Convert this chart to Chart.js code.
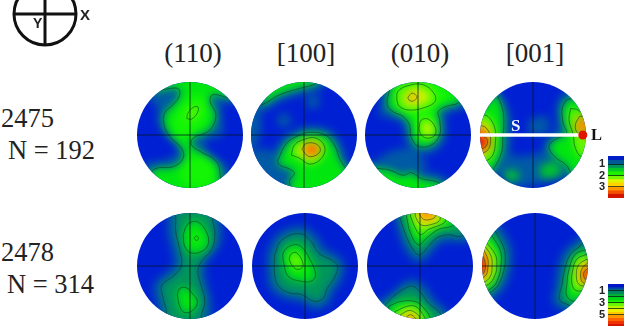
<!DOCTYPE html>
<html>
<head>
<meta charset="utf-8">
<script src="https://cdn.jsdelivr.net/npm/chart.js@4"></script>
<style>
  body { margin: 0; background: #fff; overflow: hidden; width: 631px; height: 332px; position: relative; }
  .txt { position: absolute; white-space: nowrap; font-family: "Liberation Serif", serif; color: #222; }
  .pole { position: absolute; border-radius: 50%; overflow: hidden; background: rgb(0, 32, 212); }
  canvas { position: absolute; }
</style>
</head>
<body>
<script>
const planes = ['(110)', '[100]', '(010)', '[001]'];
const samples = ['2475', '2478'];
const grainCounts = ['N = 192', 'N = 314'];

// density colour for each half level, lowest first
const levelColors = ['rgb(0,32,212)', 'rgb(0,90,165)', 'rgb(0,150,90)', 'rgb(0,195,45)', 'rgb(0,230,15)',
  'rgb(20,245,5)', 'rgb(110,245,0)', 'rgb(210,245,0)', 'rgb(245,235,0)', 'rgb(255,190,0)',
  'rgb(255,140,0)', 'rgb(255,80,0)', 'rgb(225,20,0)'];

// Contours as [level, [x, y, x, y, ...]] in percent of the stereonet radius.
// Whole levels get a contour line, half levels are only shading.
const pole2475_110 = [
  [0.5, [-90,80, -40,96, 0,110, 90,100, 95,60, 62,60, 60,0, 30,-10, 40,-40, 70,-60, 70,-110, -60,-110, -90,-60, -40,-45, -22,-25, -60,20, -62,50]],
  [2, [-76,91, -67,84, -23,88, -20,74, -32,57, -48,41, -48,16, -35,-6, -16,-25, -13,-44, -32,-60, -64,-63, -76,-79, -51,-110, 51,-110, 56,-66, 47,-47, 21,-32, 3,-19, 6,-6, 37,9, 49,38, 38,63, 43,76, 78,72, 88,98, 0,117]],
  [2.5, [-35,28, -20,54, 6,76, 28,72, 34,41, 21,13, -7,-6, -29,3]],
  [2.5, [-7,-47, 21,-38, 43,-57, 47,-82, 25,-98, -7,-94, -20,-72]],
  [3, [-6,31, -4,41, 6,52, 15,53, 14,42, 3,30]]
];
const pole2475_100 = [
  [0.5, [4,63, 10,74, 24,74, 30,63, 24,52, 10,52]],
  [0.5, [-51,28, -45,39, -31,39, -25,28, -31,17, -45,17]],
  [0.5, [-110,-30, -60,-30, -30,-70, -40,-120, -110,-120]],
  [0.5, [-120,50, -85,50, -90,-20, -120,-20]],
  [0.5, [-100,40, -70,48, -44,64, -8,76, 30,86, 50,110, -60,120]],
  [0.5, [-62,-45, -40,-6, -8,12, 16,16, 50,8, 72,-20, 82,-50, 100,-70, 96,-110, -60,-110]],
  [2, [-87,54, -73,60, -46,76, -8,88, 23,98, 33,117, -49,117]],
  [2, [-50,-49, -33,-16, -8,0, 14,5, 42,-1, 59,-22, 67,-44, 80,-66, 96,-98, -26,-113, -26,-98, -27,-85, -18,-72, -30,-63, -46,-57]],
  [3, [-24,-38, -18,-19, 1,-8, 23,-6, 39,-22, 33,-44, 11,-55, -8,-44]],
  [3.5, [-14,-32, 2,-14, 22,-12, 33,-24, 26,-40, 10,-47]],
  [5, [-4,-27, 4,-16, 23,-17, 31,-28, 23,-38, 8,-40]],
  [5.5, [4,-27, 14,-21, 25,-25, 20,-33, 11,-35]]
];
const pole2475_010 = [
  [0.5, [-72,54, -60,72, -54,41, -72,35]],
  [0.5, [-72,-41, -41,-28, -9,-28, 16,-60, -28,-66, -79,-60]],
  [0.5, [-70,50, -50,30, -28,22, -26,0, -20,-18, 0,-34, 30,-32, 52,-5, 52,28, 60,44, 85,50, 110,80, 40,120, -60,115]],
  [0.5, [-100,-50, -50,-54, -20,-58, 10,-68, 50,-80, 70,-110, -80,-120]],
  [2, [-76,-63, -54,-66, -28,-76, -13,-71, 6,-82, 41,-91, 54,-110, -72,-110, -91,-60]],
  [2, [-50,104, -54,85, -58,57, -47,44, -28,35, -16,19, -13,-3, 0,-21, 25,-19, 41,0, 41,28, 38,44, 54,54, 77,61, 98,85, 47,110]],
  [2.5, [-44,66, -30,46, -8,32, 0,0, 10,-12, 32,-6, 34,30, 28,50, 60,70, 40,100, -40,100]],
  [3, [-40,66, -38,82, -19,93, 9,95, 30,79, 32,63, 13,52, -16,47, -35,54]],
  [3, [2,13, 6,28, 19,30, 32,16, 32,0, 19,-6, 6,0]],
  [3.5, [-28,68, -14,86, 10,86, 20,70, 6,58, -18,56]],
  [3.5, [8,12, 12,24, 20,22, 27,12, 24,2, 14,2]],
  [5, [-19,71, -11,79, -2,72, -9,64, -17,66]]
];
const pole2475_001 = [
  [0.5, [-60,-30, -20,-40, 40,-30, 70,-70, 20,-90, -50,-90]],
  [0.5, [-9,28, 25,35, 28,6, -6,3]],
  [0.5, [-75,90, -52,60, -42,30, -42,-10, -46,-36, -62,-72, -85,-90, -125,0]],
  [0.5, [55,80, 44,50, 46,20, 40,4, 22,-16, 28,-50, 52,-72, 70,-90, 120,0, 90,85]],
  [1.5, [-58,-70, -34,-66, -26,-80, -46,-88]],
  [1.5, [10,-62, 38,-50, 54,-72, 20,-82]],
  [2, [-72,82, -66,72, -57,47, -55,22, -57,-6, -59,-32, -74,-63, -85,-72, -120,0]],
  [2, [63,66, 55,50, 57,22, 63,3, 41,-9, 30,-22, 41,-41, 63,-57, 72,-72, 85,-85, 116,3, 85,69]],
  [3, [-99,38, -85,35, -72,13, -71,-13, -76,-38, -91,-50, -110,-54, -123,-3]],
  [3, [71,50, 68,28, 76,0, 79,-22, 91,-41, 107,-35, 104,28, 85,47]],
  [3.5, [-92,28, -80,14, -76,-8, -82,-32, -112,-44, -120,0]],
  [5, [-101,19, -88,13, -80,-6, -85,-28, -101,-35, -116,-35, -116,19]],
  [5, [88,35, 80,19, 85,3, 104,5, 104,35]],
  [6, [-101,0, -88,-6, -86,-16, -94,-25, -113,-25, -113,0]]
];
const pole2478_110 = [
  [0.5, [-42,110, -42,60, -32,20, -32,0, -45,-12, -68,-35, -66,-60, -58,-90, -52,-118, 34,-118, 40,-66, 32,-34, 28,-5, 35,12, 56,38, 60,70, 52,110]],
  [1, [-29,106, -27,90, -27,65, -20,33, -16,2, -29,-17, -53,-36, -52,-55, -45,-83, -42,-118, 21,-118, 21,-96, 28,-67, 20,-33, 15,-11, 21,8, 42,33, 47,62, 43,84, 37,109]],
  [2, [-13,59, -4,79, 15,83, 32,62, 34,40, 21,27, 1,25, -10,37]],
  [2, [-24,-55, -20,-43, -7,-41, 6,-54, 14,-67, 6,-83, -10,-88, -19,-77]],
  [3, [8,52, 12,57, 16,52, 12,48]]
];
const pole2478_100 = [
  [0.5, [-72,25, -52,60, -8,75, 22,58, 36,36, 72,10, 70,-24, 52,-54, 44,-72, 18,-82, -8,-68, -38,-62, -66,-42, -72,-8]],
  [1, [-57,22, -44,49, -9,61, 13,44, 25,25, 60,3, 57,-19, 41,-44, 35,-60, 18,-67, -6,-54, -32,-50, -52,-35, -58,-6]],
  [2, [-41,9, -41,25, -28,38, -9,38, 9,13, 20,-16, 13,-28, -6,-29, -32,-19]],
  [3, [-30,13, -26,23, -16,25, -5,9, -5,-3, -16,-6, -25,2]]
];
const pole2478_010 = [
  [0.5, [-50,100, -40,60, -26,26, -2,6, 22,24, 38,42, 56,46, 90,46, 118,70, 60,120, -50,120]],
  [0.5, [-88,-70, -60,-56, -20,-26, 6,-34, 30,-66, 52,-86, 60,-120, -90,-120]],
  [1, [-38,91, -28,62, -15,34, -1,21, 16,37, 32,53, 54,59, 76,56, 98,72, 51,116, -37,116]],
  [2, [-25,91, -18,62, -3,40, 13,53, 35,69, 60,75, 70,84, 38,116, -25,116]],
  [3, [-18,94, -9,72, 1,59, 16,69, 45,81, 48,91, 13,116, -18,116]],
  [4, [-9,94, 1,78, 20,78, 38,88, 26,110, -6,110]],
  [5, [-1,97, 7,88, 20,88, 29,94, 20,110, -1,110]],
  [1, [-72,-79, -62,-70, -50,-57, -18,-38, -3,-45, 16,-70, 38,-89, 51,-117, -81,-117]],
  [2, [-59,-76, -37,-67, -9,-67, 7,-79, 20,-101, 13,-117, -56,-117]],
  [3, [-47,-86, -24,-76, -9,-76, 4,-89, 10,-107, -43,-107]],
  [4, [-37,-92, -21,-84, -9,-88, -1,-98, -18,-117, -34,-107]],
  [5, [-28,-98, -18,-92, -9,-98, -6,-105, -31,-105]]
];
const pole2478_001 = [
  [0.5, [-68,80, -45,38, -43,13, -46,-12, -58,-42, -76,-62, -100,-75, -125,0, -100,80]],
  [0.5, [96,70, 80,50, 56,30, 42,-6, 38,-38, 34,-70, 56,-84, 90,-90, 120,-9]],
  [1, [-75,66, -59,35, -56,13, -59,-9, -69,-35, -84,-50, -100,-60, -125,3, -100,66]],
  [2, [-81,57, -65,28, -64,3, -69,-22, -81,-41, -106,-47, -125,57]],
  [3, [-94,47, -75,22, -72,3, -75,-16, -88,-35, -113,-35, -113,47]],
  [4, [-97,41, -83,19, -81,0, -84,-19, -97,-31, -116,-31, -116,41]],
  [5, [-97,31, -89,13, -89,-3, -94,-19, -116,-25, -116,35]],
  [6, [-100,22, -94,6, -95,-9, -103,-19, -116,-16, -116,22]],
  [1, [98,54, 89,41, 67,22, 56,-6, 51,-35, 46,-63, 60,-72, 83,-79, 114,-9]],
  [2, [95,31, 76,22, 65,-3, 60,-35, 60,-57, 76,-66, 95,-47, 114,-9]],
  [3, [97,22, 79,13, 71,-9, 70,-35, 79,-47, 98,-41, 114,-9]],
  [4, [98,13, 83,3, 78,-16, 83,-35, 98,-35, 114,-9]],
  [5, [100,6, 90,-3, 86,-16, 90,-31, 105,-31, 114,-13]],
  [6, [101,-3, 92,-13, 95,-25, 105,-25, 111,-13]]
];

// colour bar bands: edges in density units, one colour per band
const bandEdges2475 = [0.27, 0.6, 1, 1.3, 1.6, 2, 2.3, 2.6, 3, 3.3, 3.6, 4];
const bandColors2475 = ['rgb(0,30,200)', 'rgb(0,90,150)', 'rgb(0,150,90)', 'rgb(0,200,40)', 'rgb(30,240,0)', 'rgb(120,245,0)',
  'rgb(220,245,0)', 'rgb(255,210,0)', 'rgb(255,150,0)', 'rgb(245,80,0)', 'rgb(210,20,0)'];
const bandTicks2475 = [1, 2, 3];
const bandEdges2478 = [-0.17, 0.3, 0.6, 1, 1.5, 2, 2.5, 3, 3.5, 4, 4.5, 5, 5.5, 6, 6.5, 6.9];
const bandColors2478 = ['rgb(0,20,200)', 'rgb(0,60,170)', 'rgb(0,100,130)', 'rgb(0,140,90)', 'rgb(0,180,50)', 'rgb(0,215,20)',
  'rgb(30,240,0)', 'rgb(110,245,0)', 'rgb(190,245,0)', 'rgb(240,240,0)', 'rgb(255,200,0)', 'rgb(255,150,0)',
  'rgb(255,100,0)', 'rgb(240,50,0)', 'rgb(210,20,0)'];
const bandTicks2478 = [1, 2, 3, 4, 5];

const axisLine = [-100, 100];
const lineationEnds = [-100, 94];
const lineationPoint = [94, 0];

const RADIUS = 53;
const PAD = 14;
const EXTENT = 100 * (RADIUS + PAD) / RADIUS;
const CONTOUR_COLOR = 'rgba(10,60,30,0.7)';

function addText(str, x, baseline, size, extra) {
  var el = document.createElement('div');
  el.className = 'txt';
  el.textContent = str;
  el.style.left = x + 'px';
  el.style.top = (baseline - 0.845 * size) + 'px';
  el.style.fontSize = size + 'px';
  el.style.lineHeight = size + 'px';
  if (extra) Object.assign(el.style, extra);
  document.body.appendChild(el);
  return el;
}

function addCanvas(parent, left, top, w, h) {
  var cv = document.createElement('canvas');
  cv.width = w;
  cv.height = h;
  cv.style.left = left + 'px';
  cv.style.top = top + 'px';
  cv.style.width = w + 'px';
  cv.style.height = h + 'px';
  parent.appendChild(cv);
  return cv;
}

function outline(flat) {
  var pts = [];
  for (var i = 0; i < flat.length; i += 2) pts.push({ x: flat[i], y: flat[i + 1] });
  pts.push(pts[0]);
  return pts;
}

function plot(cv, datasets, extent) {
  // first dataset is the bottom layer
  datasets.forEach(function (d, i) { d.order = datasets.length - i; });
  return new Chart(cv, {
    type: 'line',
    data: { datasets: datasets },
    options: {
      responsive: false,
      animation: false,
      elements: { point: { radius: 0 } },
      layout: { padding: 0, autoPadding: false },
      plugins: { legend: { display: false }, tooltip: { enabled: false } },
      scales: {
        x: { type: 'linear', display: false, min: -extent, max: extent },
        y: { type: 'linear', display: false, min: -extent, max: extent }
      }
    }
  });
}

function drawPole(cx, cy, contours) {
  var wrap = document.createElement('div');
  wrap.className = 'pole';
  wrap.style.left = (cx - RADIUS) + 'px';
  wrap.style.top = (cy - RADIUS) + 'px';
  wrap.style.width = wrap.style.height = (RADIUS * 2) + 'px';
  document.body.appendChild(wrap);

  var size = (RADIUS + PAD) * 2;
  var shadeCanvas = addCanvas(wrap, -PAD, -PAD, size, size);
  shadeCanvas.style.filter = 'blur(4px)';
  plot(shadeCanvas, contours.map(function (c) {
    return {
      data: outline(c[1]),
      backgroundColor: levelColors[c[0] * 2],
      borderWidth: 0,
      fill: 'shape',
      tension: 0.4,
      capBezierPoints: false,
      clip: false
    };
  }), EXTENT);

  var lines = contours.filter(function (c) { return Number.isInteger(c[0]); }).map(function (c) {
    return {
      data: outline(c[1]),
      borderColor: CONTOUR_COLOR,
      borderWidth: 0.8,
      fill: false,
      tension: 0.4,
      capBezierPoints: false
    };
  });
  lines.push({ data: [{ x: axisLine[0], y: 0 }, { x: axisLine[1], y: 0 }], borderColor: 'rgba(0,20,30,0.75)', borderWidth: 1, tension: 0 });
  lines.push({ data: [{ x: 0, y: axisLine[0] }, { x: 0, y: axisLine[1] }], borderColor: 'rgba(0,20,30,0.75)', borderWidth: 1, tension: 0 });
  plot(addCanvas(wrap, -PAD, -PAD, size, size), lines, EXTENT);
}

function drawBar(left, top, edges, colors, ticks, axisMin, axisMax, shownTicks) {
  var datasets = colors.map(function (col, i) {
    return { data: [[edges[i], edges[i + 1]]], backgroundColor: col, borderWidth: 0, categoryPercentage: 1, barPercentage: 1 };
  });
  new Chart(addCanvas(document.body, left, top, 34, 54), {
    type: 'bar',
    data: { labels: [''], datasets: datasets },
    options: {
      responsive: false,
      animation: false,
      layout: { padding: { top: 6, bottom: 6, right: 2, left: 0 }, autoPadding: false },
      plugins: { legend: { display: false }, tooltip: { enabled: false } },
      scales: {
        x: { display: false, stacked: true },
        y: {
          reverse: true,
          min: axisMin,
          max: axisMax,
          afterBuildTicks: function (axis) { axis.ticks = ticks.map(function (v) { return { value: v }; }); },
          afterFit: function (axis) { axis.width = 16; axis.paddingTop = 0; axis.paddingBottom = 0; },
          border: { display: false },
          grid: { z: 1, color: 'rgba(10,30,20,0.75)', lineWidth: 1, drawTicks: false },
          ticks: {
            autoSkip: false,
            padding: 3,
            color: '#222',
            font: { family: 'Liberation Sans', size: 11, weight: 'bold' },
            callback: function (v) { return shownTicks.indexOf(v) >= 0 ? String(v) : ''; }
          }
        }
      }
    }
  });
}

// sample and plane captions
[193, 306, 420, 535].forEach(function (x, i) {
  addText(planes[i], x, 63, 27, { transform: 'translateX(-50%)' });
});
addText(samples[0], 1, 127, 26.5);
addText(grainCounts[0], 8, 159, 26.5);
addText(samples[1], 1, 261, 26.5);
addText(grainCounts[1], 7, 293, 26.5);

// stereonets
[pole2475_110, pole2475_100, pole2475_010, pole2475_001].forEach(function (c, i) {
  drawPole([190, 304, 418, 533][i], 135, c);
});
[pole2478_110, pole2478_100, pole2478_010, pole2478_001].forEach(function (c, i) {
  drawPole([190, 305, 420, 535][i], 266, c);
});

// lineation marker laid over the [001] net, not clipped to the rim
plot(addCanvas(document.body, 533 - 67, 135 - 67, 134, 134), [
  { data: [{ x: lineationEnds[0], y: 0 }, { x: lineationEnds[1], y: 0 }], borderColor: '#fff', borderWidth: 3.5, tension: 0 },
  { data: [{ x: lineationPoint[0], y: lineationPoint[1] }], pointRadius: 4.5, pointBackgroundColor: 'rgb(225,20,0)', pointBorderWidth: 0 }
], EXTENT);
addText('S', 511, 131, 17, { fontWeight: 'bold', color: '#f4f6ff' });
addText('L', 591, 141, 16.5, { fontWeight: 'bold', color: '#111' });

// colour bars
drawBar(592, 150, bandEdges2475, bandColors2475, bandTicks2475, 0.27, 4, [1, 2, 3]);
drawBar(592, 278, bandEdges2478, bandColors2478, bandTicks2478, -0.17, 6.9, [1, 3, 5]);

// sample reference frame in the top corner
plot(addCanvas(document.body, 10, -21, 70, 70), [
  { data: [{ x: -100, y: 0 }, { x: 100, y: 0 }], borderColor: '#111', borderWidth: 3, tension: 0 },
  { data: [{ x: 0, y: -100 }, { x: 0, y: 100 }], borderColor: '#111', borderWidth: 3, tension: 0 },
  { data: [{ x: 0, y: 0 }], pointRadius: 31, pointBackgroundColor: 'rgba(0,0,0,0)', pointBorderColor: '#111', pointBorderWidth: 3 }
], 113);
addText('Y', 33, 28, 14, { fontFamily: 'Liberation Sans', fontWeight: 'bold', color: '#222' });
addText('X', 80, 20, 15, { fontFamily: 'Liberation Sans', fontWeight: 'bold', color: '#222' });
</script>
</body>
</html>
